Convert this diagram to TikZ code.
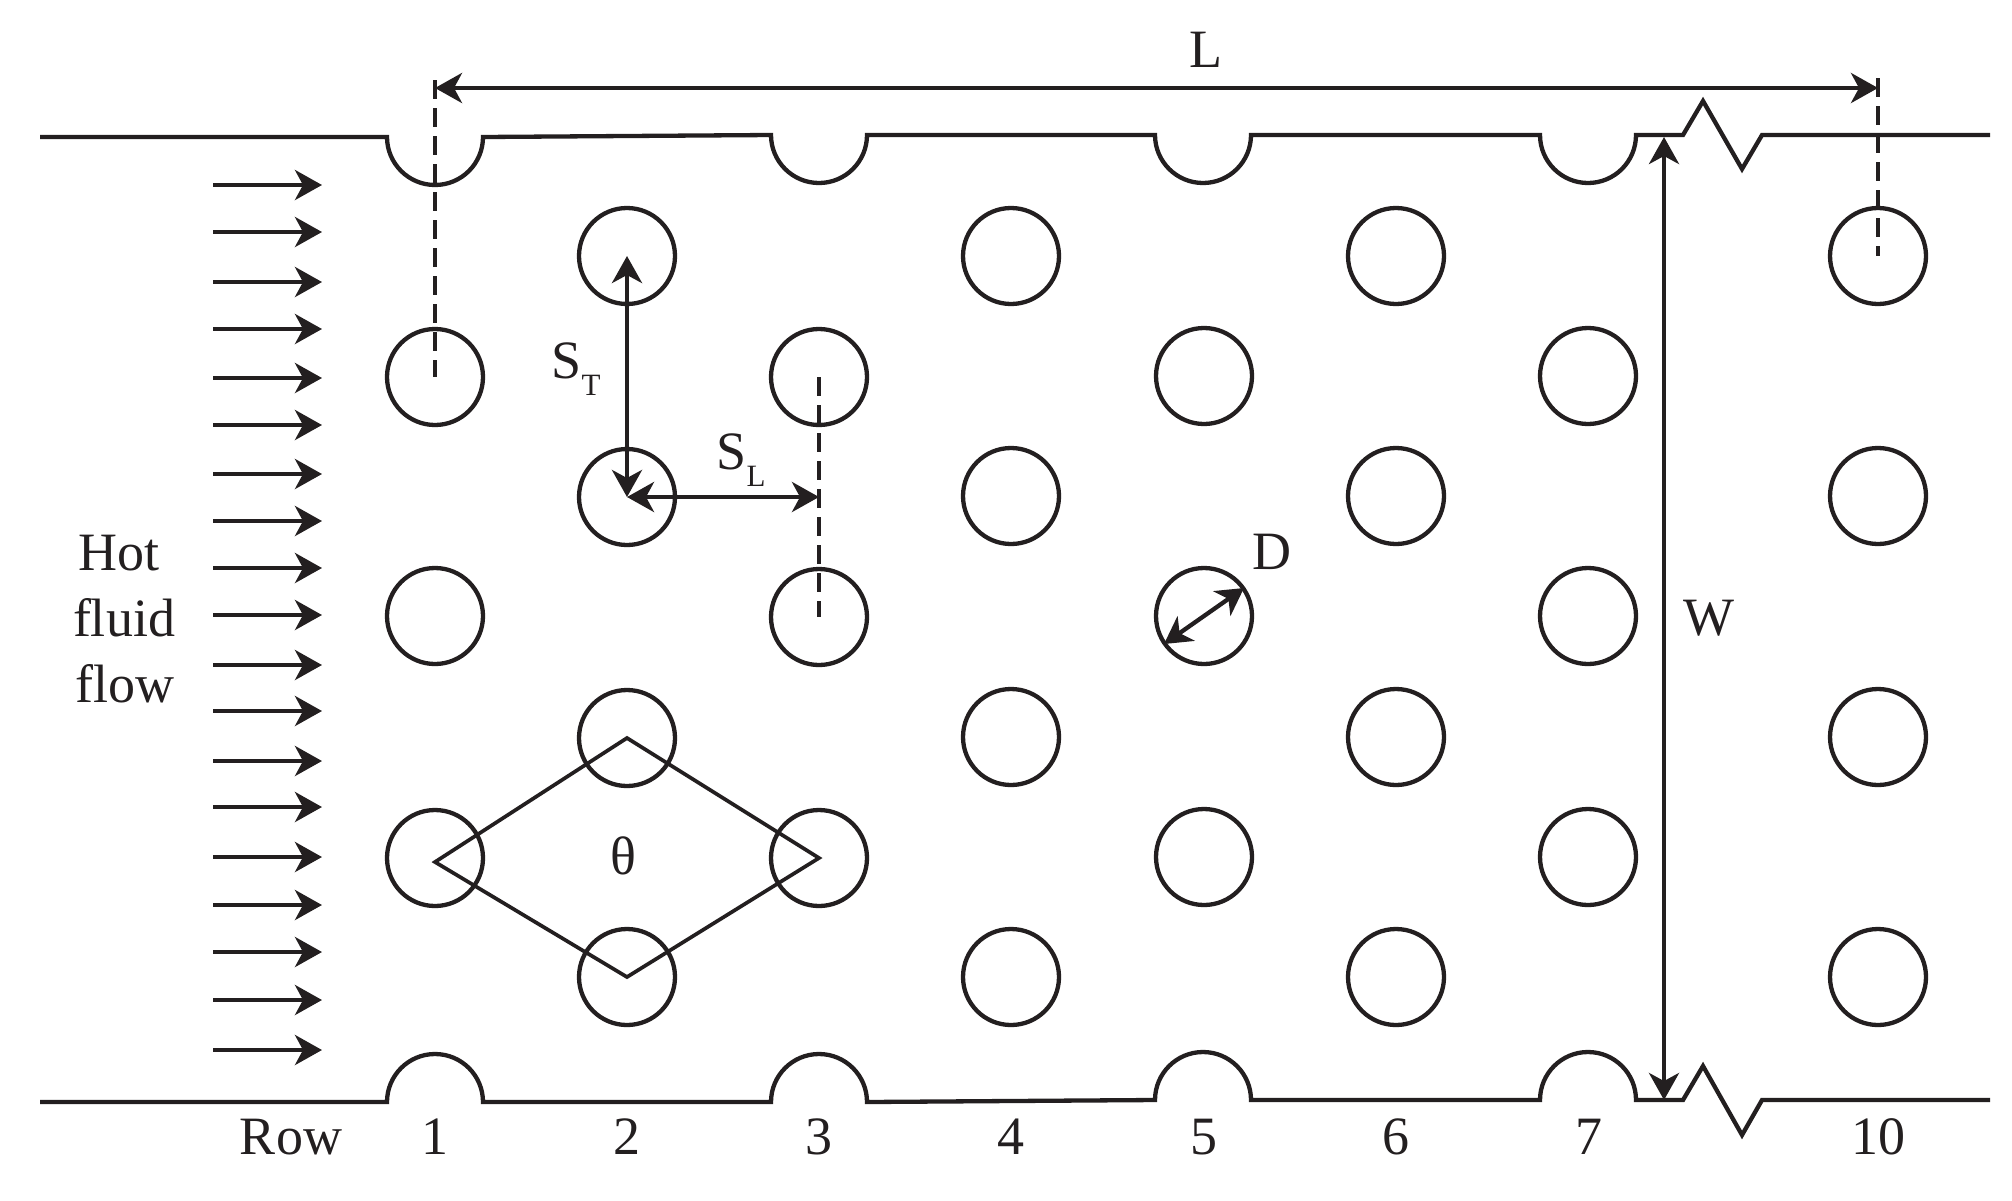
\documentclass[tikz,border=0pt]{standalone}
\usepackage{fontspec}
\setmainfont{Liberation Serif}
\usetikzlibrary{arrows.meta}
\definecolor{ink}{HTML}{231F20}
\tikzset{
  dimtip/.tip={Stealth[length=27pt,width=30pt,inset=8pt]},
  tube/.style={circle,draw=ink,line width=4.3pt,minimum size=96pt,inner sep=0pt,fill=none},
  wall/.style={draw=ink,line width=4.3pt,line join=miter},
  dim/.style={draw=ink,line width=4.3pt,dimtip-dimtip},
  flowarrow/.style={draw=ink,line width=4.3pt,-dimtip},
  guide/.style={draw=ink,line width=4.3pt,dash pattern=on 19pt off 9pt},
  rhomb/.style={draw=ink,line width=3.7pt,line join=miter},
  lab/.style={text=ink,inner sep=0pt,font=\fontsize{54pt}{54pt}\selectfont},
  flowlab/.style={text=ink,inner sep=0pt,font=\fontsize{54pt}{54pt}\selectfont}
}
\newcommand{\subsc}[1]{\raisebox{-17pt}{\fontsize{31pt}{31pt}\selectfont #1}}
\begin{document}
\begin{tikzpicture}[x=1pt,y=-1pt]
\useasboundingbox (0,0) rectangle (2012,1200);
% walls
\draw[wall] (40,137) -- (387,137) arc (180:0:48) -- (771,135) arc (180:0:48) -- (1155,135) arc (180:0:48) -- (1540,135) arc (180:0:48) -- (1683,135) -- (1703,101) -- (1742,169) -- (1762,135) -- (1990,135);
\draw[wall] (40,1102) -- (387,1102) arc (180:360:48) -- (771,1102) arc (180:360:48) -- (1155,1100) arc (180:360:48) -- (1540,1100) arc (180:360:48) -- (1683,1100) -- (1703,1066) -- (1742,1135) -- (1762,1100) -- (1990,1100);
% tubes
\foreach \n/\x/\y in {a2/435/377,a3/435/616,a4/435/858,
  b1/627/256,b2/627/497,b3/627/738,b4/627/977,
  c1/819/377,c2/819/617,c3/819/858,
  d1/1011/256,d2/1011/496,d3/1011/737,d4/1011/977,
  e1/1204/376,e2/1204/616,e3/1204/857,
  f1/1396/256,f2/1396/496,f3/1396/737,f4/1396/977,
  g1/1588/376,g2/1588/616,g3/1588/857,
  k1/1878/256,k2/1878/496,k3/1878/737,k4/1878/977}
  \node[tube] (\n) at (\x,\y) {};
% flow arrows
\foreach \i/\y in {1/185,2/232,3/282,4/329,5/378,6/425,7/474,8/521,9/568,10/615,11/665,12/711,13/761,14/807,15/857,16/905,17/952,18/1000,19/1050}{
  \coordinate (fs\i) at (213,\y);
  \coordinate (fe\i) at (322,\y);
  \draw[flowarrow] (fs\i) -- (fe\i);
}
% guides
\coordinate (g1t) at (435,80); \coordinate (g10t) at (1878,78);
\draw[guide] (g1t) -- (a2.center);
\draw[guide] (c1.center) -- (c2.center);
\draw[guide] (g10t) -- (k1.center);
% dimensions
\coordinate (Ll) at (435,88); \coordinate (Lr) at (1878,88);
\draw[dim] (Ll) -- (Lr);
\coordinate (Wt) at (1664,137); \coordinate (Wb) at (1664,1100);
\draw[dim] (Wt) -- (Wb);
\draw[dim] (b1.center) -- (b2.center);
\coordinate (SLe) at (819,497);
\draw[dim] (b2.center) -- (SLe);
\coordinate (Da) at (1164,644); \coordinate (Db) at (1244,588);
\draw[dim] (Da) -- (Db);
% rhombus
\coordinate (rl) at (435,862);
\draw[rhomb] (rl) -- (b3.center) -- (c3.center) -- (b4.center) -- cycle;
% labels
\node[lab] (lL) at (1206,50) {L};
\node[lab] (lW) at (1709,618) {W};
\node[lab] (lD) at (1272,552) {D};
\node[lab] (lth) at (623,856) {θ};
\node[lab] (lST) at (576,369) {S\subsc{T}};
\node[lab] (lSL) at (741,460) {S\subsc{L}};
\node[flowlab] (h1) at (119,553) {Hot};
\node[flowlab] (h2) at (124,618) {fluid};
\node[flowlab] (h3) at (125,684) {flow};
\node[lab] (rw) at (291,1137) {Row};
\foreach \n/\x/\t in {r1/435/1,r2/627/2,r3/819/3,r4/1011/4,r5/1204/5,r6/1396/6,r7/1589/7,r10/1878/10}
  \node[lab] (\n) at (\x,1137) {\t};
\end{tikzpicture}
\end{document}
